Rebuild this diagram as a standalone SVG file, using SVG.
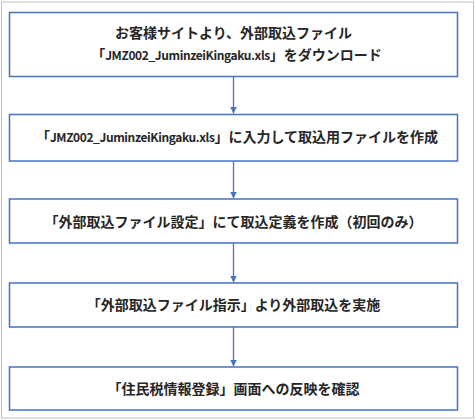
<svg xmlns="http://www.w3.org/2000/svg" width="476" height="420" viewBox="0 0 476 420">
<style>
.box{fill:#ffffff;stroke:#4472C4;stroke-width:1.5}
.t{font-family:"Noto Sans CJK JP","Noto Sans",sans-serif;font-size:14px;font-weight:bold;fill:#262626;text-anchor:middle}
.l{font-size:12px;letter-spacing:-0.4px}
.c{stroke:#4472C4;stroke-width:1.3;fill:none}
</style>
<defs>
<marker id="ah" markerWidth="8" markerHeight="8" refX="7" refY="4" orient="auto" markerUnits="userSpaceOnUse">
<path d="M0,0.5 L7,4 L0,7.5 Z" fill="#4472C4"/>
</marker>
</defs>
<rect x="0" y="0" width="476" height="420" fill="#ffffff"/>
<rect x="1.5" y="2" width="472" height="416" fill="none" stroke="#BFBFBF" stroke-width="1"/>
<g id="connectors">
<line class="c" x1="233.5" y1="76.5" x2="233.5" y2="113.5" marker-end="url(#ah)"/>
<line class="c" x1="233.5" y1="161" x2="233.5" y2="198.5" marker-end="url(#ah)"/>
<line class="c" x1="233.5" y1="243" x2="233.5" y2="282.5" marker-end="url(#ah)"/>
<line class="c" x1="233.5" y1="327" x2="233.5" y2="366.5" marker-end="url(#ah)"/>
</g>
<g id="node1">
<rect class="box" x="9.5" y="12.5" width="448" height="64"/>
<text class="t" x="233.5" y="38">お客様サイトより、外部取込ファイル</text>
<text class="t" x="236.5" y="60">「<tspan class="l">JMZ002_JuminzeiKingaku.xls</tspan>」をダウンロード</text>
</g>
<g id="node2">
<rect class="box" x="9.5" y="114.5" width="448" height="46.5"/>
<text class="t" x="237" y="142">「<tspan class="l">JMZ002_JuminzeiKingaku.xls</tspan>」に入力して取込用ファイルを作成</text>
</g>
<g id="node3">
<rect class="box" x="9.5" y="199" width="448" height="44"/>
<text class="t" x="233.5" y="226.5">「外部取込ファイル設定」にて取込定義を作成（初回のみ）</text>
</g>
<g id="node4">
<rect class="box" x="9.5" y="283" width="448" height="44"/>
<text class="t" x="233.5" y="310">「外部取込ファイル指示」より外部取込を実施</text>
</g>
<g id="node5">
<rect class="box" x="9.5" y="367" width="448" height="43"/>
<text class="t" x="233.5" y="393.5">「住民税情報登録」画面への反映を確認</text>
</g>
</svg>
